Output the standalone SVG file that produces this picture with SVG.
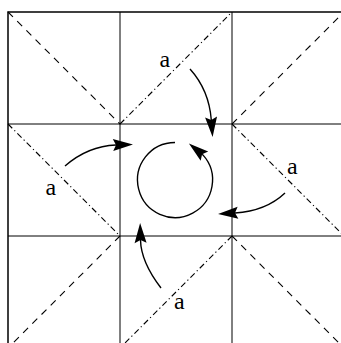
<svg xmlns="http://www.w3.org/2000/svg" width="341" height="343" viewBox="0 0 341 343">
<defs>
<style>
.grid{stroke:#000;stroke-width:1;fill:none}
.outer{stroke:#000;stroke-width:1.5;fill:none}
.dash{stroke:#000;stroke-width:1.1;fill:none;stroke-dasharray:7 6}
.dashdot{stroke:#000;stroke-width:1.1;fill:none;stroke-dasharray:6 3 1.2 3}
.arrow{stroke:#000;stroke-width:1.4;fill:none;marker-end:url(#head)}
.lbl{font-size:24px;fill:#000}
</style>
<marker id="head" markerUnits="userSpaceOnUse" markerWidth="24" markerHeight="16" refX="3" refY="0" viewBox="-1 -8 24 16" orient="auto" overflow="visible">
<path d="M0,-6 L20,0 L0,6 L3,0 Z" fill="#000" stroke="none"/>
</marker>
</defs>
<g id="grid">
<path class="outer" d="M8,348 V12 H348"/>
<path class="grid" d="M120,12 V348 M232,12 V348 M8,124 H348 M8,236 H348"/>
</g>
<g id="folds">
<line class="dash" x1="8" y1="12" x2="120" y2="124"/>
<line class="dashdot" x1="120" y1="124" x2="232" y2="12"/>
<line class="dash" x1="232" y1="124" x2="344" y2="12"/>
<line class="dashdot" x1="8" y1="124" x2="120" y2="236"/>
<line class="dashdot" x1="232" y1="124" x2="344" y2="236"/>
<line class="dash" x1="120" y1="236" x2="8" y2="348"/>
<line class="dashdot" x1="232" y1="236" x2="120" y2="348"/>
<line class="dash" x1="232" y1="236" x2="344" y2="348"/>
</g>
<g id="connectors">
<path class="arrow" d="M190,69 Q209,90 211.3,120"/>
<path class="arrow" d="M65,166 Q88,146 116,145"/>
<path class="arrow" d="M285,193 Q266,211 235,213"/>
<path class="arrow" d="M161,288 Q141,262 140.5,240"/>
<path class="arrow" d="M175,142.5 A37.5,37.5 0 1 0 202.9,154.9 l-0.8,-0.65"/>
</g>
<g font-family="Liberation Serif, Times New Roman, serif">
<g id="label-top"><text class="lbl" x="159.5" y="67">a</text></g>
<g id="label-left"><text class="lbl" x="45.5" y="195">a</text></g>
<g id="label-right"><text class="lbl" x="287" y="174">a</text></g>
<g id="label-bottom"><text class="lbl" x="174" y="309">a</text></g>
</g>
</svg>
